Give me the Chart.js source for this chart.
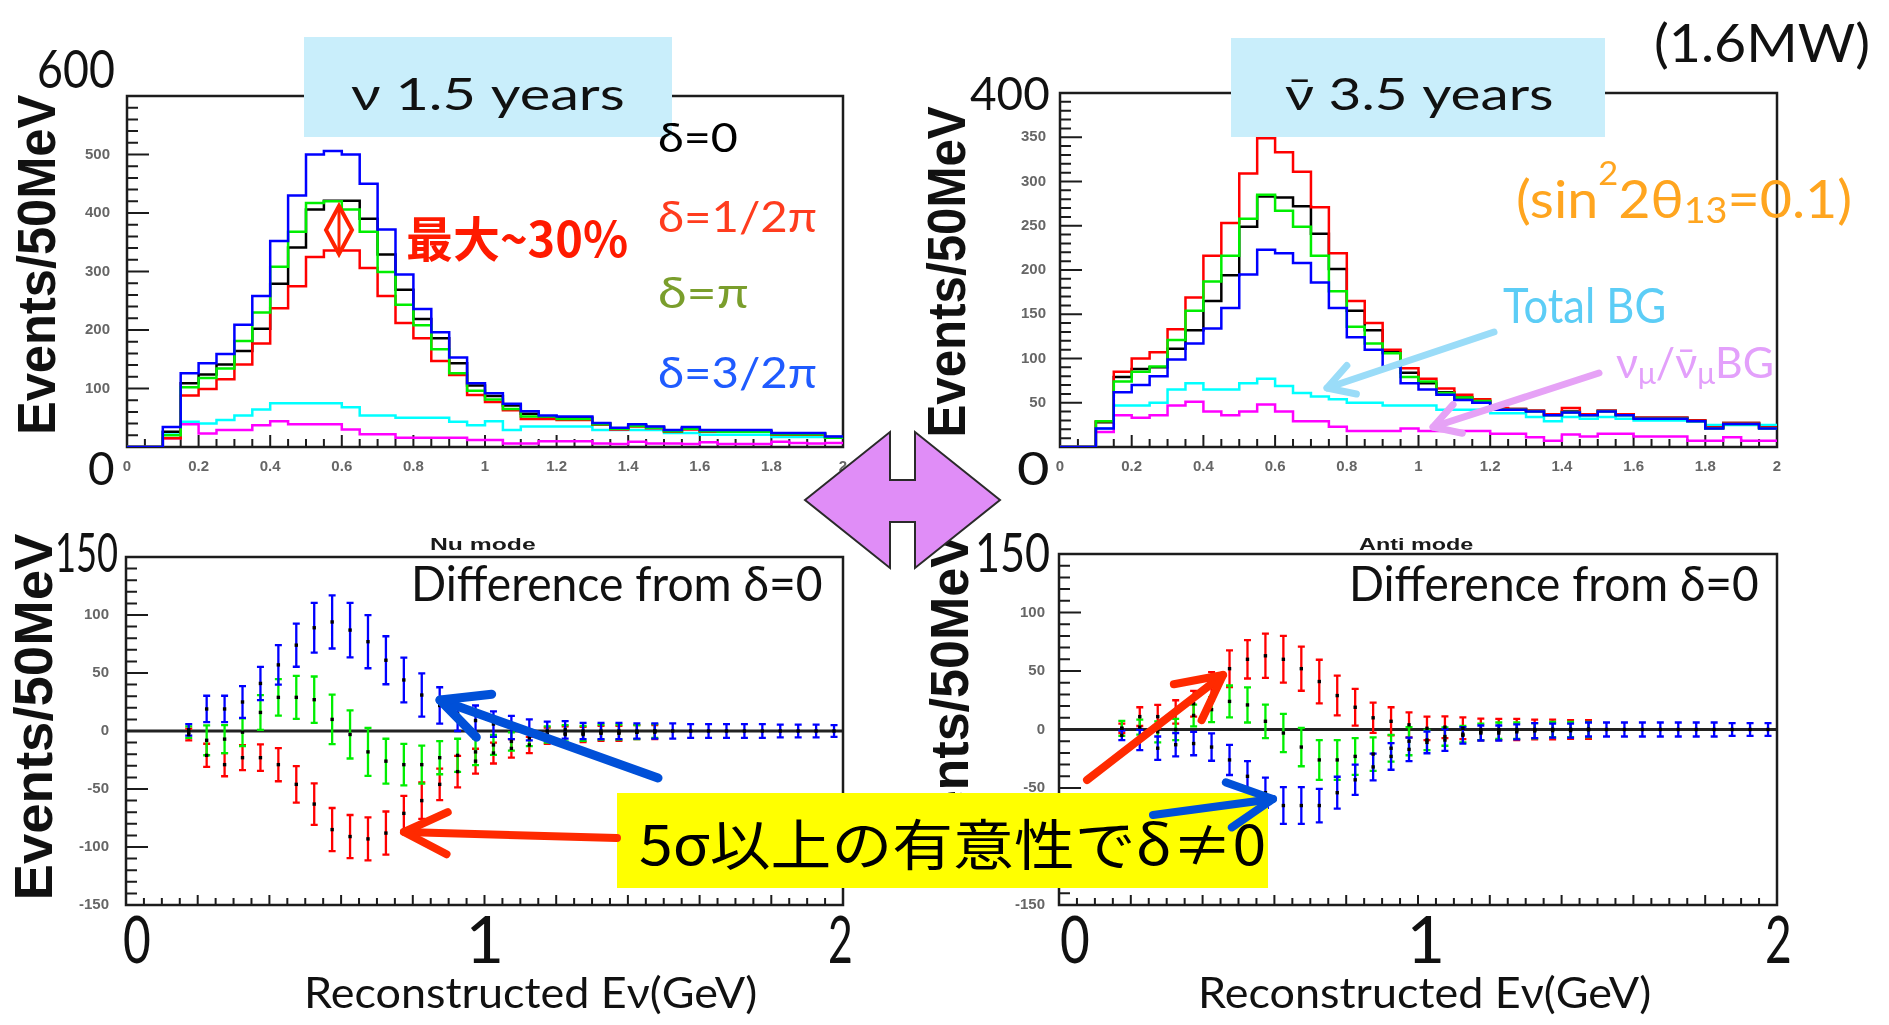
<!DOCTYPE html>
<html lang="ja">
<head>
<meta charset="utf-8">
<title>nu / anti-nu spectra, delta CP</title>
<script src="https://cdn.jsdelivr.net/npm/chart.js@4.4.1/dist/chart.umd.min.js"></script>
<style>
  html, body { margin: 0; padding: 0; background: #fff; }
  #page { position: relative; width: 1889px; height: 1025px; overflow: hidden; background: #fff; }
  #page canvas { position: absolute; }
  .t { position: absolute; left: 0; top: 0; white-space: nowrap; line-height: 1; transform-origin: 0 0;
       font-family: Lato, "Open Sans", "Noto Sans", sans-serif; }
  .t sub, .t sup { line-height: 0; }
  .bl { display: inline-block; width: 0; height: 0; vertical-align: baseline; }
  .box { position: absolute; }
  #marks { position: absolute; left: 0; top: 0; }
</style>
</head>
<body>
<div id="page">
  <canvas id="nuHist"></canvas>
  <canvas id="antiHist"></canvas>
  <canvas id="nuDiff"></canvas>
  <canvas id="antiDiff"></canvas>
</div>
<script>
// 50 MeV bins, reconstructed energy in GeV
const binEdges = [0, 0.05, 0.1, 0.15, 0.2, 0.25, 0.3, 0.35, 0.4, 0.45, 0.5, 0.55, 0.6, 0.65, 0.7, 0.75,
  0.8, 0.85, 0.9, 0.95, 1, 1.05, 1.1, 1.15, 1.2, 1.25, 1.3, 1.35, 1.4, 1.45, 1.5, 1.55, 1.6, 1.65, 1.7,
  1.75, 1.8, 1.85, 1.9, 1.95, 2];

// nu mode, 1.5 years (events / 50 MeV)
const nuDelta0 = [0, 0, 26, 109, 124, 141, 164, 202, 279, 341, 406, 421, 421, 390, 329, 269, 219, 186, 143, 105,
  87, 71, 57, 52, 50, 50, 40, 32, 37, 34, 28, 32, 28, 27, 27, 27, 23, 23, 23, 17];
const nuDeltaHalfPi = [0, 0, 15, 88, 99, 116, 141, 177, 237, 275, 325, 336, 336, 306, 258, 212, 186, 147, 123, 89,
  77, 63, 48, 48, 46, 46, 38, 30, 35, 32, 26, 30, 26, 26, 26, 26, 21, 21, 21, 16];
const nuDeltaPi = [0, 0, 20, 102, 118, 134, 181, 230, 308, 368, 417, 420, 406, 368, 299, 243, 208, 167, 126, 96,
  81, 65, 52, 52, 48, 48, 39, 31, 36, 33, 27, 31, 27, 26, 26, 26, 22, 22, 22, 16];
const nuDelta3HalfPi = [0, 0, 34, 126, 143, 159, 209, 258, 352, 430, 500, 506, 500, 450, 372, 295, 236, 196, 153, 109,
  92, 74, 61, 54, 52, 52, 41, 33, 39, 35, 29, 34, 29, 29, 29, 29, 24, 24, 24, 18];
const nuTotalBG = [0, 0, 25, 43, 40, 46, 54, 64, 75, 75, 75, 75, 68, 54, 54, 50, 50, 50, 43, 37,
  44, 29, 35, 35, 35, 35, 29, 29, 29, 29, 24, 24, 21, 21, 21, 21, 17, 17, 17, 17];
const nuNumuBG = [0, 0, 15, 39, 23, 29, 29, 37, 44, 39, 39, 39, 30, 22, 22, 16, 16, 16, 16, 12,
  12, 6, 6, 10, 10, 10, 6, 5, 9, 6, 6, 5, 8, 5, 5, 5, 9, 7, 6, 7];

// anti-nu mode, 3.5 years
const antiDelta0 = [0, 0, 28, 79, 88, 90, 111, 132, 165, 194, 249, 283, 282, 272, 241, 201, 154, 132, 107, 84,
  72, 62, 56, 52, 43, 43, 41, 37, 40, 37, 41, 37, 33, 33, 33, 30, 22, 27, 27, 22];
const antiDeltaHalfPi = [0, 0, 29, 85, 100, 107, 133, 169, 216, 253, 309, 349, 333, 311, 271, 219, 165, 140, 110, 89,
  77, 66, 59, 54, 44, 43, 41, 37, 44, 37, 41, 37, 33, 33, 33, 30, 22, 27, 27, 22];
const antiDeltaPi = [0, 0, 29, 74, 85, 91, 121, 154, 187, 216, 258, 285, 267, 249, 216, 176, 136, 117, 106, 79,
  74, 61, 56, 52, 42, 42, 40, 36, 39, 36, 40, 36, 32, 32, 32, 29, 21, 26, 26, 21];
const antiDelta3HalfPi = [0, 0, 21, 62, 70, 80, 99, 117, 134, 157, 195, 223, 219, 208, 186, 157, 124, 110, 91, 72,
  65, 59, 53, 50, 42, 42, 40, 36, 39, 36, 40, 36, 32, 32, 32, 29, 21, 26, 26, 21];
const antiTotalBG = [0, 0, 21, 47, 47, 50, 65, 72, 65, 65, 72, 77, 69, 61, 57, 54, 50, 50, 47, 47,
  47, 42, 42, 42, 38, 38, 34, 29, 34, 32, 34, 32, 30, 30, 30, 29, 25, 25, 25, 25];
const antiNumuBG = [0, 0, 17, 36, 33, 36, 47, 51, 40, 36, 40, 48, 40, 29, 29, 23, 18, 18, 18, 21,
  18, 18, 18, 18, 15, 15, 11, 7, 14, 12, 15, 15, 12, 12, 12, 7, 7, 11, 7, 7];

// difference from delta=0, energies of the plotted points (GeV)
const diffE = [0.175, 0.225, 0.275, 0.325, 0.375, 0.425, 0.475, 0.525, 0.575, 0.625, 0.675, 0.725, 0.775,
  0.825, 0.875, 0.925, 0.975, 1.025, 1.075, 1.125, 1.175, 1.225, 1.275, 1.325, 1.375, 1.425, 1.475,
  1.525, 1.575, 1.625, 1.675, 1.725, 1.775, 1.825, 1.875, 1.925, 1.975];

const nuDiffHalfPi = [-3, -21, -29, -23, -23, -29, -46, -63, -85, -91, -93, -88, -71, -60, -46, -35, -26, -19,
  -15, -12, -4, -3, -3, -2, -2, -1, -1];
const nuErrHalfPi = [5, 10, 10, 10.7, 11.4, 14.3, 15.7, 17.9, 18.6, 18.6, 18.6, 18.6, 15, 15.7, 13.6, 13.6, 10.7, 9,
  8, 7, 7, 7, 6.5, 6.5, 6.5, 6, 6];
const nuDiffPi = [-1, -8, -7, -1, 16, 29, 29, 27, 10, -3, -18, -26, -29, -29, -23, -21, -18, -12, -9, -6,
  -3, -2, -2, -1, -1, -1, 0];
const nuErrPi = [5, 12.9, 12, 12, 15, 15.7, 18.6, 20, 21.4, 20.7, 20.7, 19.3, 17.9, 16.4, 14.3, 14.3, 11.4, 8.6,
  7.9, 7, 7, 7, 6.5, 6.5, 6.5, 6, 6];
const nuDiff3HalfPi = [1, 19, 19, 25, 41, 57, 74, 89, 94, 87, 77, 61, 44, 31, 22, 15, 9, 6, 3, 1,
  0, 1, 0, 0, 0, 0, 0, 0, 0, 0, 0, 0, 0, 0, 0, 0, 0];
const nuErr3HalfPi = [5, 11.4, 11.4, 13.6, 14.3, 17, 18.6, 21.4, 22.9, 23.5, 22.9, 20.7, 19.3, 18.6, 15.7, 15, 13, 11,
  10, 9, 8, 7.5, 7, 7, 7, 6.5, 6.5, 6.5, 6, 6, 6, 6, 6, 5.5, 5.5, 5.5, 5];

const antiDiffHalfPi = [1, 11, 11, 15, 22, 37, 52, 60, 63, 60, 52, 41, 29, 19, 10, 7, 4, 1, 2, 1,
  0, 0, 0, 0, 0, 0, 0];
const antiErrHalfPi = [4, 8, 10, 10, 11, 12, 15.7, 16.4, 18.9, 20, 18.9, 18.6, 17, 15.7, 12.9, 12, 10.7, 10,
  9.3, 9.3, 9.3, 9, 9, 8.5, 8.5, 8, 8];
const antiDiffPi = [1, 2, -2, 0, 12, 17, 24, 21, 7, -3, -15, -26, -26, -23, -21, -16, -10, -9, -6, -4,
  -2, -1, -1, -1, 0, 0, 0];
const antiErrPi = [6.4, 6.4, 9, 9, 9.3, 10.7, 13.6, 15, 14.3, 16.4, 16.4, 17, 17, 15.7, 14.3, 11.4, 12, 8.6,
  7.9, 7, 7, 7, 7, 6.5, 6.5, 6.5, 6.5];
const antiDiff3HalfPi = [-5, -9, -16, -13, -12, -15, -26, -40, -54, -65, -65, -65, -54, -43, -32, -23, -17, -11,
  -9, -5, -3, -3, -2, -1, -1, -1, 0, 0, 0, 0, 0, 0, 0, 0, 0, 0, 0];
const antiErr3HalfPi = [4, 8.6, 10, 10, 10, 11.7, 12.9, 12.9, 12.9, 15.7, 15.7, 14.3, 13.6, 12.9, 11.4, 11.4, 10,
  9.3, 9.3, 7, 6.4, 6.4, 6.4, 6.4, 6, 6, 6, 6, 6, 6, 6, 6, 6, 6, 5.5, 5.5, 5.5];

// tick labels
const histTicksX = [0, 0.2, 0.4, 0.6, 0.8, 1, 1.2, 1.4, 1.6, 1.8, 2];
const nuTicksY = [100, 200, 300, 400, 500];
const antiTicksY = [50, 100, 150, 200, 250, 300, 350];
const diffTicksY = [-150, -100, -50, 0, 50, 100];

const page = document.getElementById('page');

function histPoints(vals) {
  const pts = vals.map((v, i) => ({ x: binEdges[i], y: v }));
  pts.push({ x: binEdges[vals.length], y: vals[vals.length - 1] });
  return pts;
}
function diffPoints(vals) {
  return vals.map((v, i) => ({ x: diffE[i], y: v }));
}

// ROOT-like frame with ticks drawn inside
const rootFrame = {
  id: 'rootFrame',
  beforeDatasetsDraw(chart, args, o) {
    const { ctx, chartArea: a } = chart;
    const x = chart.scales.x, y = chart.scales.y;
    const isMajor = (v, m) => Math.abs(v / m - Math.round(v / m)) < 1e-6;
    ctx.save();
    ctx.strokeStyle = '#1c1c1c';
    ctx.lineWidth = 2;
    ctx.beginPath();
    for (let k = 0; ; k++) {
      const v = y.min + k * o.yMinor;
      if (v > y.max + 1e-9) break;
      const py = y.getPixelForValue(v);
      ctx.moveTo(a.left, py);
      ctx.lineTo(a.left + (isMajor(v, o.yMajor) ? o.yLen[0] : o.yLen[1]), py);
    }
    for (let k = 0; ; k++) {
      const v = x.min + k * o.xMinor;
      if (v > x.max + 1e-9) break;
      const px = x.getPixelForValue(v);
      ctx.moveTo(px, a.bottom);
      ctx.lineTo(px, a.bottom - (isMajor(v, o.xMajor) ? o.xLen[0] : o.xLen[1]));
    }
    ctx.stroke();
    if (o.zero) {
      ctx.lineWidth = 3;
      ctx.strokeStyle = '#222';
      const pz = y.getPixelForValue(0);
      ctx.beginPath();
      ctx.moveTo(a.left, pz);
      ctx.lineTo(a.right, pz);
      ctx.stroke();
    }
    ctx.strokeStyle = '#1c1c1c';
    ctx.lineWidth = 2.5;
    ctx.strokeRect(a.left, a.top, a.right - a.left, a.bottom - a.top);
    ctx.restore();
  }
};

// vertical error bars with end caps
const errorBars = {
  id: 'errorBars',
  beforeDatasetsDraw(chart) {
    const { ctx, chartArea: a } = chart;
    const x = chart.scales.x, y = chart.scales.y;
    ctx.save();
    ctx.beginPath();
    ctx.rect(a.left, a.top, a.right - a.left, a.bottom - a.top);
    ctx.clip();
    ctx.lineWidth = 2.3;
    chart.data.datasets.forEach(ds => {
      if (!ds.errors) return;
      ctx.strokeStyle = ds.barColor;
      ctx.beginPath();
      ds.data.forEach((p, i) => {
        const px = x.getPixelForValue(p.x);
        const y0 = y.getPixelForValue(p.y - ds.errors[i]);
        const y1 = y.getPixelForValue(p.y + ds.errors[i]);
        ctx.moveTo(px, y0); ctx.lineTo(px, y1);
        ctx.moveTo(px - 3.5, y0); ctx.lineTo(px + 3.5, y0);
        ctx.moveTo(px - 3.5, y1); ctx.lineTo(px + 3.5, y1);
      });
      ctx.stroke();
    });
    ctx.restore();
  }
};

function panel(id, frame, spec) {
  const padL = 80, padT = 14, padR = 30, padB = spec.axisH;
  const cv = document.getElementById(id);
  const w = padL + frame.w + padR, h = padT + frame.h + padB;
  cv.width = w; cv.height = h;
  Object.assign(cv.style, { left: (frame.x - padL) + 'px', top: (frame.y - padT) + 'px',
    width: w + 'px', height: h + 'px' });
  const tickFont = { family: 'Liberation Sans', size: 15, weight: 'bold' };
  return new Chart(cv, {
    type: spec.type,
    data: { datasets: spec.datasets },
    options: {
      responsive: false,
      animation: false,
      devicePixelRatio: 1,
      layout: { padding: { left: 0, top: padT, right: padR, bottom: 0 } },
      plugins: { legend: { display: false }, tooltip: { enabled: false }, rootFrame: spec.frameOpts },
      scales: {
        x: {
          type: 'linear', min: 0, max: 2,
          grid: { display: false }, border: { display: false },
          afterBuildTicks: s => { s.ticks = histTicksX.map(v => ({ value: v })); },
          ticks: { display: spec.xLabels, padding: 3, color: '#666', font: tickFont,
            maxRotation: 0, autoSkip: false, callback: v => String(v) },
          afterFit: s => { s.height = padB; }
        },
        y: {
          type: 'linear', min: spec.yMin, max: spec.yMax,
          grid: { display: false }, border: { display: false },
          afterBuildTicks: s => { s.ticks = spec.yTicks.map(v => ({ value: v })); },
          ticks: { padding: spec.yPad, color: '#666', font: tickFont, autoSkip: false,
            callback: v => String(v) },
          afterFit: s => { s.width = padL; }
        }
      }
    },
    plugins: [rootFrame, errorBars]
  });
}

function hist(vals, color) {
  return { data: histPoints(vals), borderColor: color, borderWidth: 2.5, stepped: 'before',
    pointRadius: 0, fill: false, tension: 0 };
}
function diff(vals, errs, color) {
  return { data: diffPoints(vals), errors: errs, barColor: color, showLine: false,
    pointStyle: 'rect', pointRadius: 2.4, pointBackgroundColor: '#000', pointBorderWidth: 0 };
}

const histFrame = { yMinor: 20, yMajor: 100, yLen: [22, 11], xMinor: 0.05, xMajor: 0.2, xLen: [12, 8] };

panel('nuHist', { x: 127, y: 92, w: 716, h: 355 }, {
  type: 'line', axisH: 40, xLabels: true, yMin: 0, yMax: 600, yTicks: nuTicksY, yPad: 9,
  frameOpts: histFrame,
  datasets: [
    hist(nuDelta3HalfPi, '#0000ff'), hist(nuDeltaPi, '#00ee00'), hist(nuDeltaHalfPi, '#ff0000'),
    hist(nuDelta0, '#000000'), hist(nuNumuBG, '#ff00ff'), hist(nuTotalBG, '#00ffff')
  ]
});

panel('antiHist', { x: 1060, y: 92, w: 717, h: 355 }, {
  type: 'line', axisH: 40, xLabels: true, yMin: 0, yMax: 400, yTicks: antiTicksY, yPad: 6,
  frameOpts: { yMinor: 10, yMajor: 50, yLen: [22, 11], xMinor: 0.05, xMajor: 0.2, xLen: [12, 8] },
  datasets: [
    hist(antiDelta3HalfPi, '#0000ff'), hist(antiDeltaPi, '#00ee00'), hist(antiDeltaHalfPi, '#ff0000'),
    hist(antiDelta0, '#000000'), hist(antiNumuBG, '#ff00ff'), hist(antiTotalBG, '#00ffff')
  ]
});

const diffFrame = { yMinor: 10, yMajor: 50, yLen: [22, 11], xMinor: 0.05, xMajor: 0.2, xLen: [10, 7], zero: true };

panel('nuDiff', { x: 126, y: 553, w: 717, h: 352 }, {
  type: 'scatter', axisH: 20, xLabels: false, yMin: -150, yMax: 150, yTicks: diffTicksY, yPad: 9,
  frameOpts: diffFrame,
  datasets: [
    diff(nuDiffHalfPi, nuErrHalfPi, '#ff0000'), diff(nuDiffPi, nuErrPi, '#00ee00'),
    diff(nuDiff3HalfPi, nuErr3HalfPi, '#0000ff')
  ]
});

panel('antiDiff', { x: 1059, y: 553, w: 718, h: 352 }, {
  type: 'scatter', axisH: 20, xLabels: false, yMin: -150, yMax: 150, yTicks: diffTicksY, yPad: 6,
  frameOpts: diffFrame,
  datasets: [
    diff(antiDiffHalfPi, antiErrHalfPi, '#ff0000'), diff(antiDiffPi, antiErrPi, '#00ee00'),
    diff(antiDiff3HalfPi, antiErr3HalfPi, '#0000ff')
  ]
});

// ---------- slide annotations ----------
function box(x, y, w, h, color) {
  const el = document.createElement('div');
  el.className = 'box';
  Object.assign(el.style, { left: x + 'px', top: y + 'px', width: w + 'px', height: h + 'px', background: color });
  page.appendChild(el);
}

function txt(html, o) {
  const el = document.createElement('div');
  el.className = 't';
  el.innerHTML = html + '<span class="bl"></span>';
  const size = o.size || o.cap / (o.ratio || 0.72);
  el.style.fontSize = size + 'px';
  if (o.font) el.style.fontFamily = o.font;
  if (o.weight) el.style.fontWeight = o.weight;
  el.style.color = o.color || '#111';
  page.appendChild(el);
  const b = el.querySelector('.bl').offsetTop;
  const w = el.offsetWidth;
  if (o.rot) {
    const s = o.len / w;
    el.style.transform = `translate(${o.bx - b}px, ${o.cy + o.len / 2}px) rotate(-90deg) scaleX(${s})`;
    return;
  }
  let sx = 1, left;
  if (o.x1 !== undefined) {
    sx = Math.min(1.6, Math.max(0.6, (o.x1 - o.x0) / w));
    left = o.x0;
  } else {
    left = o.cx - w / 2;
  }
  el.style.transform = `translate(${left}px, ${o.base - b}px) scaleX(${sx})`;
}

const sans = '"Liberation Sans", Arial, sans-serif';
const cjk = '"Noto Sans CJK JP", "Noto Sans CJK SC", sans-serif';

txt('Events/50MeV', { rot: true, bx: 55, cy: 265, len: 340, cap: 39, ratio: 0.716, font: sans, weight: 700 });
txt('Events/50MeV', { rot: true, bx: 965, cy: 272, len: 331, cap: 39, ratio: 0.716, font: sans, weight: 700 });
txt('Events/50MeV', { rot: true, bx: 52, cy: 717, len: 367, cap: 38, ratio: 0.716, font: sans, weight: 700 });
txt('Events/50MeV', { rot: true, bx: 968, cy: 708, len: 350, cap: 38, ratio: 0.716, font: sans, weight: 700 });

box(304, 37, 368, 100, '#c9eefb');
box(1231, 38, 374, 99, '#c9eefb');
txt('ν 1.5 years', { x0: 351, x1: 625, base: 110, cap: 32 });
txt('ν\u0304 3.5 years', { x0: 1285, x1: 1554, base: 110, cap: 32 });

txt('600', { x0: 37, x1: 115, base: 88, cap: 38 });
txt('0', { x0: 88, x1: 115, base: 485, cap: 33 });
txt('400', { x0: 970, x1: 1050, base: 110, cap: 33 });
txt('0', { x0: 1017, x1: 1050, base: 485, cap: 33 });
txt('150', { x0: 55, x1: 118, base: 572, cap: 39 });
txt('150', { x0: 975, x1: 1050, base: 572, cap: 39 });

txt('0', { x0: 123, x1: 151, base: 963, cap: 48 });
txt('1', { cx: 485, base: 963, cap: 48 });
txt('2', { x0: 828, x1: 853, base: 963, cap: 48 });
txt('0', { x0: 1060, x1: 1090, base: 963, cap: 48 });
txt('1', { cx: 1426, base: 963, cap: 48 });
txt('2', { x0: 1765, x1: 1792, base: 963, cap: 48 });
txt('Reconstructed Eν(GeV)', { x0: 304, x1: 757, base: 1008, cap: 30 });
txt('Reconstructed Eν(GeV)', { x0: 1198, x1: 1651, base: 1008, cap: 30 });

txt('δ=0', { x0: 658, x1: 738, base: 152, cap: 29, color: '#000' });
txt('δ=1/2π', { x0: 658, x1: 817, base: 232, cap: 30, color: '#ff3c1e' });
txt('δ=π', { x0: 658, x1: 749, base: 308, cap: 30, color: '#7a9e2c' });
txt('δ=3/2π', { x0: 658, x1: 817, base: 388, cap: 30, color: '#1f5bff' });
txt('最大~30%', { x0: 406, x1: 628, base: 257, size: 48, font: cjk, weight: 700, color: '#ff1a00' });

txt('(1.6MW)', { x0: 1654, x1: 1870, base: 62, cap: 37 });
txt('(sin<sup style="font-size:0.62em;vertical-align:1.0em">2</sup>2θ<sub style="font-size:0.68em;vertical-align:-0.14em">13</sub>=0.1)',
  { x0: 1516, x1: 1852, base: 218, cap: 38, color: '#ffa51f' });
txt('Total BG', { x0: 1503, x1: 1666, base: 323, cap: 35, color: '#5ccdf6' });
txt('ν<sub style="font-size:0.7em;vertical-align:-0.2em">μ</sub>/ν\u0304<sub style="font-size:0.7em;vertical-align:-0.2em">μ</sub>BG',
  { x0: 1616, x1: 1774, base: 378, cap: 31, color: '#e3a0fb' });

txt('Nu mode', { x0: 430, x1: 535, base: 550, size: 16, font: sans, weight: 700, color: '#1a1a1a' });
txt('Anti mode', { x0: 1359, x1: 1473, base: 550, size: 16, font: sans, weight: 700, color: '#1a1a1a' });
txt('Difference from δ=0', { x0: 411, x1: 823, base: 601, cap: 35 });
txt('Difference from δ=0', { x0: 1349, x1: 1759, base: 601, cap: 35 });

box(617, 793, 651, 95, '#ffff00');
txt('5σ以上の有意性でδ≠0', { x0: 639, x1: 1266, base: 865, size: 55, font: cjk, color: '#000' });

// arrows and shapes
function arrow(x1, y1, x2, y2, head, angDeg, color, w) {
  const a = Math.atan2(y1 - y2, x1 - x2), t = angDeg * Math.PI / 180;
  const p1 = [x2 + head * Math.cos(a + t), y2 + head * Math.sin(a + t)];
  const p2 = [x2 + head * Math.cos(a - t), y2 + head * Math.sin(a - t)];
  const st = `stroke="${color}" stroke-width="${w}" stroke-linecap="round" stroke-linejoin="round" fill="none"`;
  return `<line x1="${x1}" y1="${y1}" x2="${x2}" y2="${y2}" ${st}/>` +
    `<polyline points="${p1[0]},${p1[1]} ${x2},${y2} ${p2[0]},${p2[1]}" ${st}/>`;
}

const marks = [
  '<polygon points="805,500 890,432 890,480 915,480 915,432 1000,500 915,568 915,522 890,522 890,568" fill="#e08df7" stroke="#2a2a2a" stroke-width="2"/>',
  '<polygon points="339,206 352,230 339,254 326,230" fill="none" stroke="#ff2200" stroke-width="4"/>',
  '<line x1="339" y1="206" x2="339" y2="254" stroke="#ff2200" stroke-width="3"/>',
  arrow(1494, 332, 1327, 388, 30, 30, '#9adcf8', 7),
  arrow(1599, 373, 1433, 427, 30, 30, '#e6a2f6', 7),
  arrow(617, 838, 404, 832, 48, 26, '#ff2a00', 8),
  arrow(658, 778, 440, 700, 52, 26, '#0050d8', 9),
  arrow(1087, 780, 1223, 675, 50, 27, '#ff2a00', 8),
  arrow(1153, 815, 1273, 799, 50, 27, '#0050d8', 8)
];
const svg = document.createElementNS('http://www.w3.org/2000/svg', 'svg');
svg.setAttribute('id', 'marks');
svg.setAttribute('width', '1889');
svg.setAttribute('height', '1025');
svg.innerHTML = marks.join('');
page.appendChild(svg);
</script>
</body>
</html>
